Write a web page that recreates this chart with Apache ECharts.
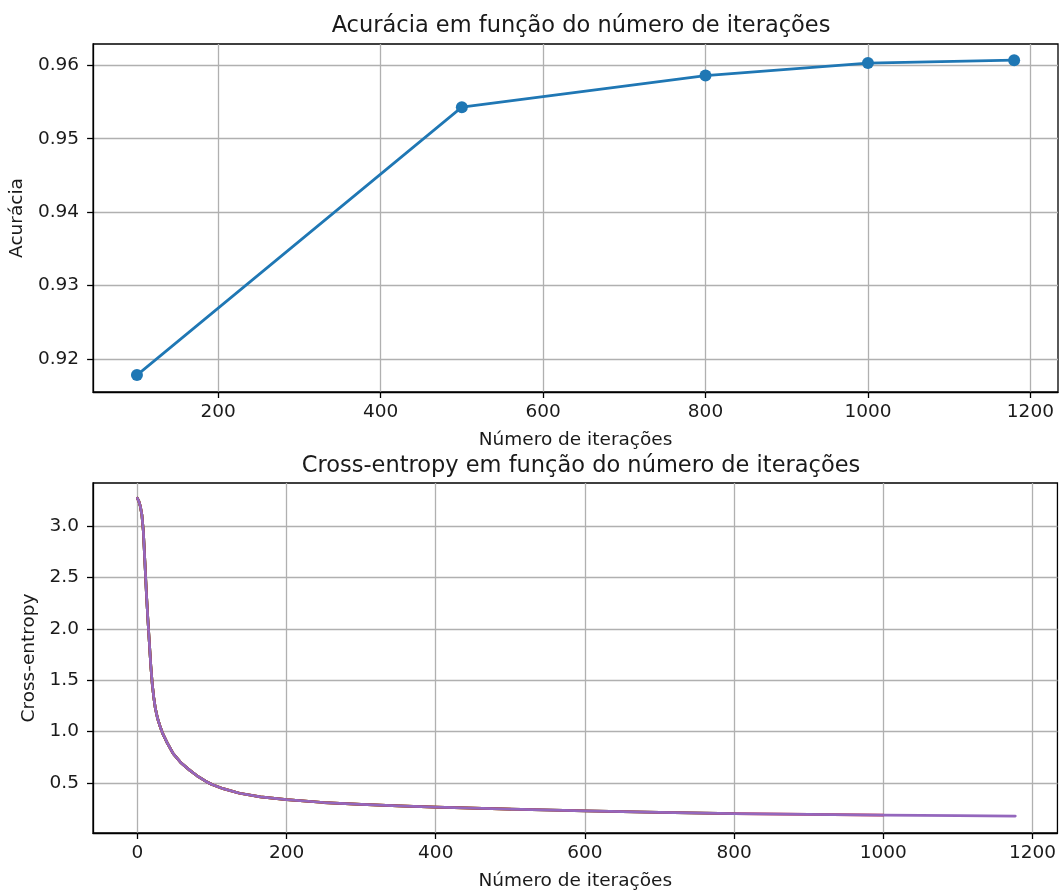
<!DOCTYPE html>
<html>
<head>
    <meta charset="UTF-8">
    <title>Acurácia e Cross-entropy</title>
    <style type="text/css">
        body {
            margin: 0;
            background: #fff;
        }

        #chart {
            width: 1059px;
            height: 893px;
        }
    </style>
    <script type="text/javascript" src="https://cdn.jsdelivr.net/npm/echarts@6/dist/echarts.min.js"></script>
</head>
<body>
<div id="chart"></div>
<script type="text/javascript">
    // acurácia por número de iterações
    var accIter = [100, 500, 800, 1000, 1180];
    var accValues = [0.9178, 0.9543, 0.9586, 0.9603, 0.9607];

    // cross-entropy ao longo do treino
    var ceIter = [0, 2, 4, 6, 8, 10, 12, 14, 16, 18, 20, 22, 24, 27, 30, 34, 40, 48, 58, 70, 80, 92, 100, 115,
        137, 165, 200, 250, 300, 350, 400, 450, 500, 600, 700, 800, 900, 1000, 1100, 1177];
    var ceLoss = [3.27, 3.24, 3.19, 3.11, 2.95, 2.66, 2.36, 2.10, 1.87, 1.64, 1.46, 1.33, 1.23, 1.13, 1.06, 0.98,
        0.89, 0.785, 0.70, 0.625, 0.57, 0.515, 0.485, 0.445, 0.40, 0.365, 0.338, 0.31, 0.292, 0.277, 0.266,
        0.255, 0.245, 0.229, 0.215, 0.203, 0.195, 0.188, 0.182, 0.178];
    // um treino por número de iterações, cada um desenhado por cima do anterior
    var ceRuns = [100, 500, 800, 1000, 1180];
    var ceColors = ['#1f77b4', '#ff7f0e', '#2ca02c', '#d62728', '#9467bd'];

    // marcas dos eixos
    var accTicksX = [200, 400, 600, 800, 1000, 1200];
    var accTicksY = [0.92, 0.93, 0.94, 0.95, 0.96];
    var ceTicksX = [0, 200, 400, 600, 800, 1000, 1200];
    var ceTicksY = [0.5, 1.0, 1.5, 2.0, 2.5, 3.0];

    var font = 'DejaVu Sans';
    var textColor = '#1a1a1a';
    var gridColor = '#b0b0b0';

    function valueAxis(opts) {
        return {
            type: 'value',
            gridIndex: opts.grid,
            min: opts.min,
            max: opts.max,
            name: opts.name,
            nameLocation: 'middle',
            nameGap: opts.nameGap,
            nameTextStyle: {fontFamily: font, fontSize: 18.5, color: textColor},
            axisLine: {show: true, onZero: false, lineStyle: {color: '#000', width: 1.3}},
            axisTick: {show: true, inside: false, length: 6, customValues: opts.ticks,
                lineStyle: {color: '#000', width: 1.3}},
            axisLabel: {
                customValues: opts.ticks,
                margin: opts.labelMargin,
                fontFamily: font,
                fontSize: 18.5,
                color: textColor,
                formatter: function (v) {
                    return v.toFixed(opts.digits);
                }
            },
            splitLine: {show: true, lineStyle: {color: gridColor, width: 1.3}}
        };
    }

    var series = [{
        type: 'line',
        xAxisIndex: 0,
        yAxisIndex: 0,
        data: accIter.map(function (x, i) {
            return [x, accValues[i]];
        }),
        symbol: 'circle',
        symbolSize: 12,
        itemStyle: {color: '#1f77b4'},
        lineStyle: {color: '#1f77b4', width: 2.7},
        animation: false
    }];

    ceRuns.forEach(function (n, k) {
        var pts = [];
        for (var i = 0; i < ceIter.length; i++) {
            if (ceIter[i] <= n) {
                pts.push([ceIter[i], ceLoss[i]]);
            }
        }
        series.push({
            type: 'line',
            xAxisIndex: 1,
            yAxisIndex: 1,
            data: pts,
            showSymbol: false,
            lineStyle: {color: ceColors[k], width: 2.7, join: 'round', cap: 'round'},
            animation: false,
            z: 2 + k
        });
    });

    var myChart = echarts.init(document.getElementById('chart'));
    myChart.setOption({
        animation: false,
        title: [{
            text: 'Acurácia em função do número de iterações',
            left: 576,
            textAlign: 'center',
            top: 10,
            textStyle: {fontFamily: font, fontSize: 22.5, fontWeight: 'normal', color: textColor}
        }, {
            text: 'Cross-entropy em função do número de iterações',
            left: 576,
            textAlign: 'center',
            top: 450,
            textStyle: {fontFamily: font, fontSize: 22.5, fontWeight: 'normal', color: textColor}
        }],
        grid: [
            {left: 93, right: 1, top: 44, height: 348, show: true, borderColor: '#000', borderWidth: 1.3},
            {left: 93, right: 1, top: 483, height: 350, show: true, borderColor: '#000', borderWidth: 1.3}
        ],
        xAxis: [
            valueAxis({grid: 0, min: 46, max: 1234, ticks: accTicksX, digits: 0, labelMargin: 11,
                name: 'Número de iterações', nameGap: 39}),
            valueAxis({grid: 1, min: -59.5, max: 1233.5, ticks: ceTicksX, digits: 0, labelMargin: 11,
                name: 'Número de iterações', nameGap: 39})
        ],
        yAxis: [
            valueAxis({grid: 0, min: 0.9155, max: 0.9629, ticks: accTicksY, digits: 2, labelMargin: 14,
                name: 'Acurácia', nameGap: 66}),
            valueAxis({grid: 1, min: 0.0136, max: 3.418, ticks: ceTicksY, digits: 1, labelMargin: 14,
                name: 'Cross-entropy', nameGap: 50})
        ],
        series: series
    });
</script>
</body>
</html>
